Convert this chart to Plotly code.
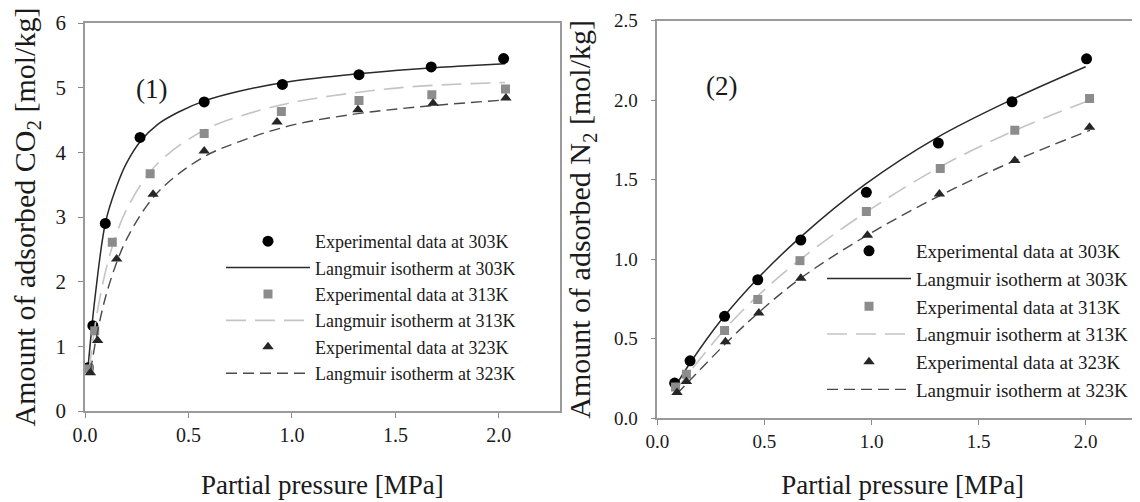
import plotly.graph_objects as go

# ---------------- data ----------------
temps = ["303K", "313K", "323K"]

# (1) CO2 experimental data
co2_x_303 = [0.016, 0.038, 0.098, 0.266, 0.576, 0.954, 1.324, 1.673, 2.023]
co2_y_303 = [0.67, 1.32, 2.90, 4.23, 4.78, 5.05, 5.20, 5.32, 5.45]
co2_x_313 = [0.020, 0.047, 0.132, 0.315, 0.576, 0.949, 1.324, 1.676, 2.032]
co2_y_313 = [0.65, 1.24, 2.61, 3.67, 4.29, 4.63, 4.80, 4.89, 4.98]
co2_x_323 = [0.026, 0.061, 0.153, 0.329, 0.576, 0.928, 1.319, 1.682, 2.034]
co2_y_323 = [0.59, 1.09, 2.35, 3.35, 4.02, 4.47, 4.66, 4.76, 4.84]

# (1) CO2 Langmuir isotherm curves
fit_co2_x_303 = [0.016, 0.05, 0.1, 0.15, 0.2, 0.27, 0.35, 0.45, 0.58, 0.75, 1.0, 1.3, 1.6, 1.8, 2.03]
fit_co2_y_303 = [0.72, 1.80, 2.93, 3.45, 3.83, 4.18, 4.43, 4.62, 4.80, 4.95, 5.10, 5.21, 5.29, 5.33, 5.37]
fit_co2_x_313 = [0.02, 0.05, 0.1, 0.15, 0.2, 0.3, 0.4, 0.58, 0.75, 1.0, 1.3, 1.6, 2.03]
fit_co2_y_313 = [0.63, 1.35, 2.17, 2.72, 3.11, 3.64, 3.97, 4.35, 4.56, 4.77, 4.92, 5.02, 5.08]
fit_co2_x_323 = [0.026, 0.06, 0.1, 0.15, 0.2, 0.3, 0.4, 0.58, 0.75, 1.0, 1.3, 1.6, 2.03]
fit_co2_y_323 = [0.61, 1.22, 1.77, 2.27, 2.65, 3.18, 3.53, 3.94, 4.17, 4.42, 4.59, 4.70, 4.81]

# (2) N2 experimental data
n2_x_303 = [0.081, 0.153, 0.314, 0.469, 0.670, 0.976, 1.312, 1.656, 2.004]
n2_y_303 = [0.22, 0.36, 0.64, 0.87, 1.12, 1.42, 1.73, 1.99, 2.26]
n2_x_313 = [0.085, 0.136, 0.314, 0.469, 0.666, 0.976, 1.321, 1.669, 2.018]
n2_y_313 = [0.195, 0.275, 0.55, 0.745, 0.99, 1.30, 1.57, 1.81, 2.01]
n2_x_323 = [0.092, 0.136, 0.318, 0.474, 0.670, 0.981, 1.317, 1.669, 2.018]
n2_y_323 = [0.16, 0.23, 0.48, 0.66, 0.88, 1.15, 1.41, 1.62, 1.83]

# (2) N2 Langmuir isotherm curves
fit_n2_x_303 = [0.08, 0.15, 0.3, 0.47, 0.67, 0.97, 1.3, 1.65, 2.0]
fit_n2_y_303 = [0.19, 0.34, 0.62, 0.88, 1.14, 1.47, 1.76, 2.0, 2.21]
fit_n2_x_313 = [0.085, 0.14, 0.31, 0.47, 0.67, 0.98, 1.32, 1.67, 2.02]
fit_n2_y_313 = [0.17, 0.27, 0.55, 0.77, 1.0, 1.30, 1.58, 1.81, 2.0]
fit_n2_x_323 = [0.09, 0.14, 0.32, 0.47, 0.67, 0.98, 1.32, 1.67, 2.02]
fit_n2_y_323 = [0.15, 0.22, 0.47, 0.66, 0.88, 1.15, 1.40, 1.62, 1.81]

x_ticks = [0.0, 0.5, 1.0, 1.5, 2.0]
co2_y_ticks = [0, 1, 2, 3, 4, 5, 6]
n2_y_ticks = [0.0, 0.5, 1.0, 1.5, 2.0, 2.5]

# ---------------- styles ----------------
FONT = "Liberation Serif"
TXT = "#1a1a1a"
marker_styles = {
    "303K": dict(symbol="circle", size=11, color="#000000"),
    "313K": dict(symbol="square", size=9, color="#8c8c8c"),
    "323K": dict(symbol="triangle-up", size=10, color="#262626"),
}
line_styles = {
    "303K": dict(color="#2a2a2a", width=1.5, dash="solid"),
    "313K": dict(color="#c4c4c4", width=1.6, dash="20px,9px"),
    "323K": dict(color="#4a4a4a", width=1.4, dash="11px,6px"),
}

co2_exp = {"303K": (co2_x_303, co2_y_303), "313K": (co2_x_313, co2_y_313), "323K": (co2_x_323, co2_y_323)}
co2_fit = {"303K": (fit_co2_x_303, fit_co2_y_303), "313K": (fit_co2_x_313, fit_co2_y_313), "323K": (fit_co2_x_323, fit_co2_y_323)}
n2_exp = {"303K": (n2_x_303, n2_y_303), "313K": (n2_x_313, n2_y_313), "323K": (n2_x_323, n2_y_323)}
n2_fit = {"303K": (fit_n2_x_303, fit_n2_y_303), "313K": (fit_n2_x_313, fit_n2_y_313), "323K": (fit_n2_x_323, fit_n2_y_323)}

fig = go.Figure()

def add_panel(exp, fit, xa, ya, legend_name):
    for t in temps:
        fx, fy = fit[t]
        ex, ey = exp[t]
        fig.add_trace(go.Scatter(
            x=fx, y=fy, mode="lines", line=dict(**line_styles[t], shape="spline"),
            name=f"Langmuir isotherm at {t}", xaxis=xa, yaxis=ya, legend=legend_name,
            legendrank=2 * temps.index(t) + 2, showlegend=True))
        fig.add_trace(go.Scatter(
            x=ex, y=ey, mode="markers", marker=dict(**marker_styles[t], line=dict(width=0)),
            name=f"Experimental data at {t}", xaxis=xa, yaxis=ya, legend=legend_name,
            legendrank=2 * temps.index(t) + 1, showlegend=True))

add_panel(co2_exp, co2_fit, "x", "y", "legend")
add_panel(n2_exp, n2_fit, "x2", "y2", "legend2")

W, H = 1140, 502
axis_common = dict(
    showgrid=False, zeroline=False, showline=True, linecolor="#9a9a9a", linewidth=1.6,
    ticks="outside", ticklen=5, tickwidth=1.2, tickcolor="#8a8a8a", automargin=False,
)

fig.update_layout(
    width=W, height=H,
    margin=dict(l=0, r=0, t=0, b=0),
    paper_bgcolor="white", plot_bgcolor="white",
    font=dict(family=FONT, color=TXT),
    xaxis=dict(**axis_common, domain=[77 / W, 551.7 / W], range=[0, 2.294], anchor="y",
               tickvals=x_ticks, tickformat=".1f", mirror=True,
               tickfont=dict(size=20, family=FONT, color=TXT),
               title=dict(text="Partial pressure [MPa]", font=dict(size=27, family=FONT, color=TXT), standoff=30)),
    yaxis=dict(**axis_common, domain=[1 - 403 / H, 1 - 15 / H], range=[0, 6], anchor="x",
               tickvals=co2_y_ticks, mirror=True, ticklabelstandoff=8,
               tickfont=dict(size=21, family=FONT, color=TXT),
               title=dict(text="Amount of adsorbed CO<sub>2</sub> [mol/kg]", font=dict(size=30, family=FONT, color=TXT), standoff=29)),
    xaxis2=dict(**axis_common, domain=[649.3 / W, 1.0], range=[0, (W - 649.3) / 214.2], anchor="y2",
                tickvals=x_ticks, tickformat=".1f", mirror=True,
                tickfont=dict(size=19, family=FONT, color=TXT),
                title=dict(text="Partial pressure [MPa]", font=dict(size=27, family=FONT, color=TXT), standoff=25)),
    yaxis2=dict(**axis_common, domain=[1 - 410 / H, 1 - 12.7 / H], range=[0, 2.5], anchor="x2",
                tickvals=n2_y_ticks, tickformat=".1f", mirror=False, ticklabelstandoff=9,
                tickfont=dict(size=19, family=FONT, color=TXT),
                title=dict(text="Amount of adsorbed N<sub>2</sub> [mol/kg]", font=dict(size=30, family=FONT, color=TXT), standoff=14)),
    legend=dict(x=213 / W, y=1 - 215 / H, xanchor="left", yanchor="top", bgcolor="rgba(0,0,0,0)",
                font=dict(size=18, family=FONT, color=TXT), itemwidth=84),
    legend2=dict(x=814 / W, y=1 - 224 / H, xanchor="left", yanchor="top", bgcolor="rgba(0,0,0,0)",
                 font=dict(size=19, family=FONT, color=TXT), itemwidth=84),
    annotations=[
        dict(text="(1)", x=0.32, y=4.98, xref="x", yref="y", showarrow=False,
             font=dict(size=27, family=FONT, color=TXT)),
        dict(text="(2)", x=0.30, y=2.09, xref="x2", yref="y2", showarrow=False,
             font=dict(size=27, family=FONT, color=TXT)),
    ],
)

fig.write_html("out.html")
